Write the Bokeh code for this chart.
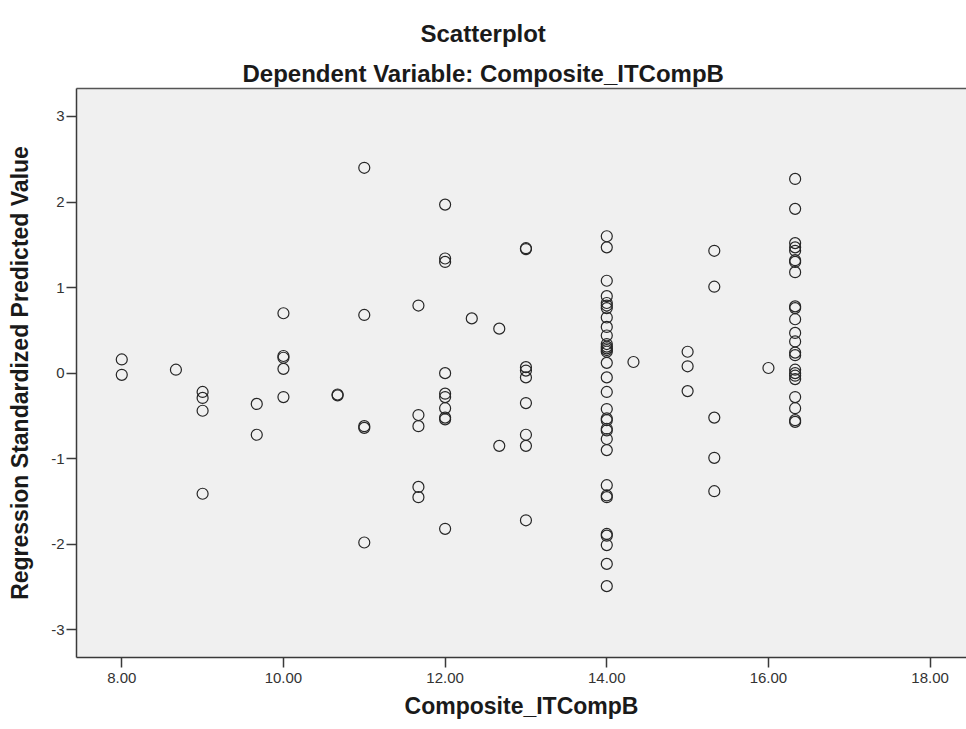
from bokeh.plotting import figure
from bokeh.models import Range1d, FixedTicker, LinearAxis, Title, ColumnDataSource
from bokeh.embed import file_html
from bokeh.resources import INLINE

# Data (x = Composite_ITCompB, y = standardized predicted value)
x8 = [8.0, 8.0]
y8 = [0.16, -0.02]
x867 = [8.67]
y867 = [0.04]
x9 = [9.0] * 4
y9 = [-0.22, -0.29, -0.44, -1.41]
x967 = [9.67] * 2
y967 = [-0.36, -0.72]
x10 = [10.0] * 5
y10 = [0.70, 0.20, 0.18, 0.05, -0.28]
x1067 = [10.67] * 2
y1067 = [-0.25, -0.26]
x11 = [11.0] * 5
y11 = [2.40, 0.68, -0.62, -0.64, -1.98]
x1167 = [11.67] * 5
y1167 = [0.79, -0.49, -0.62, -1.33, -1.45]
x12 = [12.0] * 10
y12 = [1.97, 1.34, 1.30, 0.00, -0.24, -0.28, -0.41, -0.52, -0.54, -1.82]
x1233 = [12.33]
y1233 = [0.64]
x1267 = [12.67] * 2
y1267 = [0.52, -0.85]
x13 = [13.0] * 9
y13 = [1.46, 1.45, 0.07, 0.03, -0.05, -0.35, -0.72, -0.85, -1.72]
x14 = [14.0] * 33
y14 = [1.60, 1.47, 1.08, 0.90, 0.82, 0.79, 0.76, 0.65, 0.54, 0.44, 0.34, 0.31,
       0.29, 0.27, 0.25, 0.12, -0.05, -0.22, -0.42, -0.53, -0.55, -0.65, -0.67,
       -0.77, -0.90, -1.31, -1.43, -1.45, -1.88, -1.90, -2.01, -2.23, -2.49]
x1433 = [14.33]
y1433 = [0.13]
x15 = [15.0] * 3
y15 = [0.25, 0.08, -0.21]
x1533 = [15.33] * 5
y1533 = [1.43, 1.01, -0.52, -0.99, -1.38]
x16 = [16.0]
y16 = [0.06]
x1633 = [16.33] * 23
y1633 = [2.27, 1.92, 1.52, 1.47, 1.43, 1.32, 1.30, 1.18, 0.78, 0.76, 0.63, 0.47,
         0.37, 0.24, 0.21, 0.04, 0.00, -0.03, -0.07, -0.28, -0.41, -0.55, -0.57]

x_ticks = [8, 10, 12, 14, 16, 18]
x_tick_labels = ["8.00", "10.00", "12.00", "14.00", "16.00", "18.00"]
y_ticks = [-3, -2, -1, 0, 1, 2, 3]
y_tick_labels = ["-3", "-2", "-1", "0", "1", "2", "3"]

xs = (x8 + x867 + x9 + x967 + x10 + x1067 + x11 + x1167 + x12 + x1233 + x1267 + x13
      + x14 + x1433 + x15 + x1533 + x16 + x1633)
ys = (y8 + y867 + y9 + y967 + y10 + y1067 + y11 + y1167 + y12 + y1233 + y1267 + y13
      + y14 + y1433 + y15 + y1533 + y16 + y1633)

FONT = "Liberation Sans, Arial, sans-serif"
BOLD_FONT = "Liberation Sans, Arial, sans-serif"

p = figure(width=966, height=729, output_backend="svg", toolbar_location=None,
           x_range=Range1d(7.44, 18.45), y_range=Range1d(-3.324, 3.327),
           min_border_left=76, min_border_right=0, min_border_top=88, min_border_bottom=72)

p.background_fill_color = "#f0f0f0"
p.border_fill_color = "white"
p.outline_line_color = None
p.grid.visible = False

src = ColumnDataSource(dict(x=xs, y=ys))
p.scatter("x", "y", source=src, marker="circle", size=11, fill_color=None,
          line_color="#262626", line_width=1.2)

for ax in (p.xaxis[0], p.yaxis[0]):
    ax.axis_line_color = "#3a3a3a"
    ax.axis_line_width = 1.5
    ax.major_tick_line_color = "#3a3a3a"
    ax.major_tick_line_width = 1.5
    ax.major_tick_out = 10
    ax.major_tick_in = 0
    ax.minor_tick_line_color = None
    ax.major_label_text_font = FONT
    ax.major_label_text_font_size = "15px"
    ax.major_label_text_color = "#333333"
    ax.axis_label_text_font = BOLD_FONT
    ax.axis_label_text_font_style = "bold"
    ax.axis_label_text_font_size = "23px"
    ax.axis_label_text_color = "#1a1a1a"

p.xaxis.ticker = FixedTicker(ticks=x_ticks)
p.xaxis.major_label_overrides = {t: l for t, l in zip(x_ticks, x_tick_labels)}
p.xaxis.axis_label = "Composite_ITCompB"
p.xaxis.major_label_standoff = 5
p.xaxis.axis_label_standoff = 7

p.yaxis.ticker = FixedTicker(ticks=y_ticks)
p.yaxis.major_label_overrides = {t: l for t, l in zip(y_ticks, y_tick_labels)}
p.yaxis.axis_label = "Regression Standardized Predicted Value"
p.yaxis.major_label_standoff = 2
p.yaxis.axis_label_standoff = 15

top = LinearAxis(ticker=FixedTicker(ticks=[]), axis_line_color="#555555",
                 axis_line_width=1.5, major_tick_out=0, major_tick_in=0,
                 minor_tick_line_color=None, major_label_text_font_size="0px")
p.add_layout(top, "above")

sub = Title(text="Dependent Variable: Composite_ITCompB", align="left",
            text_font=BOLD_FONT, text_font_size="24px", text_font_style="bold",
            text_color="#1a1a1a", standoff=3, offset=166)
p.add_layout(sub, "above")
main = Title(text="Scatterplot", align="left", text_font=BOLD_FONT,
             text_font_size="24px", text_font_style="bold", text_color="#1a1a1a",
             standoff=20, offset=344)
p.add_layout(main, "above")

open("out.html", "w").write(file_html(p, INLINE))
